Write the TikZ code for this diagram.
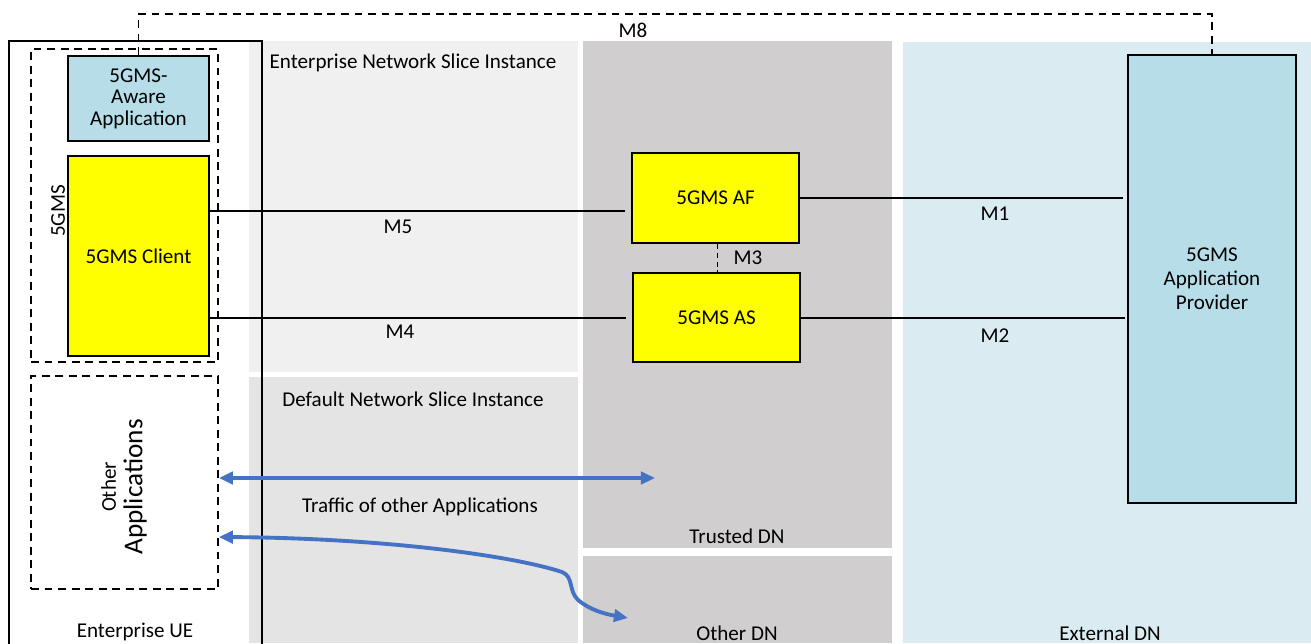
\documentclass[tikz,border=0pt]{standalone}
\usepackage{fontspec}
\setmainfont{Carlito}
\usetikzlibrary{arrows.meta}
\definecolor{ensi}{HTML}{F0F0F0}
\definecolor{dnsi}{HTML}{E4E4E4}
\definecolor{dngray}{HTML}{D0CECF}
\definecolor{extdn}{HTML}{DAECF2}
\definecolor{lblue}{HTML}{B7DEE8}
\definecolor{ayellow}{HTML}{FFFF00}
\definecolor{arrowblue}{HTML}{4472C4}
\begin{document}
\begin{tikzpicture}[x=0.02cm,y=-0.02cm,
  font=\fontsize{12}{14}\selectfont,
  box/.style={draw=black, line width=1.1pt, inner sep=2pt, align=center},
  dashbox/.style={draw=black, line width=1pt, dash pattern=on 4.5pt off 3.2pt},
  iface/.style={line width=0.9pt},
  flow/.style={draw=arrowblue, line width=2.2pt},
  lbl/.style={inner sep=0pt, align=center}]
\useasboundingbox (0,0) rectangle (1311,643);
% regions
\fill[ensi] (249,41) rectangle (578,372);
\fill[dnsi] (249,377) rectangle (578,643);
\fill[dngray] (583,41) rectangle (892,548);
\fill[dngray] (583,556) rectangle (892,643);
\fill[extdn] (903,42) rectangle (1311,643);
% Enterprise UE box
\draw[line width=1.1pt] (9,645) -- (9,41) -- (262,41) -- (262,645);
% dashed groups
\node[dashbox, minimum width=3.74cm, minimum height=6.26cm] (gms) at (124.5,205.5) {};
\node[dashbox, minimum width=3.74cm, minimum height=4.26cm] (other) at (124.5,482.5) {};
% boxes
\node[box, fill=lblue, minimum width=2.82cm, minimum height=1.7cm, font=\fontsize{12}{12.2}\selectfont] (aware) at (138.5,98.5) {5GMS-\\Aware\\Application};
\node[box, fill=ayellow, minimum width=2.82cm, minimum height=4cm] (client) at (138.5,256) {5GMS Client};
\node[box, fill=ayellow, minimum width=3.34cm, minimum height=1.8cm] (af) at (715.5,198) {5GMS AF};
\node[box, fill=ayellow, minimum width=3.34cm, minimum height=1.78cm] (as) at (716.5,317.5) {5GMS AS};
\node[box, fill=lblue, minimum width=3.36cm, minimum height=8.96cm, font=\fontsize{12}{13.6}\selectfont] (prov) at (1212,279) {5GMS\\Application\\Provider};
% free ends
\coordinate (m5end) at (625,211);
\coordinate (m4end) at (626,318);
\coordinate (m1end) at (1123,198);
\coordinate (m2end) at (1125,318);
\coordinate (m8l) at (139,14);
\coordinate (m8r) at (1212,14);
\coordinate (f1end) at (655,478);
\coordinate (f2end) at (628,618);
% interfaces
\draw[iface] (client.east |- m5end) -- (m5end);
\draw[iface] (client.east |- m4end) -- (m4end);
\draw[iface] (af.east |- m1end) -- (m1end);
\draw[iface] (as.east |- m2end) -- (m2end);
\draw[line width=0.5pt, densely dashed] (af.south -| 717,0) -- (as.north -| 717,0);
\draw[dashbox] (aware.north) -- (aware.north |- m8l) -- (m8r) -- (prov.north);
% traffic flows
\draw[flow, {Triangle[length=8pt,width=7pt]}-{Triangle[length=8pt,width=7pt]}] (other.east |- f1end) -- (f1end);
\draw[flow, {Triangle[length=8pt,width=7pt]}-{Triangle[length=8pt,width=7pt]}] (other.east |- 0,537) .. controls (380,538) and (510,555) .. (562,572) .. controls (574,577) and (568,590) .. (578,600) .. controls (590,610) and (605,614) .. (f2end);
% labels
\node[lbl] (l5gms) at (58,211) [rotate=90] {5GMS};
\node[lbl] (lother) at (124,487) [rotate=90] {Other\\[1pt]{\fontsize{15.5}{17}\selectfont Applications}};
\node[lbl] (lue) at (135,632) {Enterprise UE};
\node[lbl] (lensi) at (413,63) {Enterprise Network Slice Instance};
\node[lbl] (ldnsi) at (413,399) {Default Network Slice Instance};
\node[lbl] (ltraffic) at (420,507) {Traffic of other Applications};
\node[lbl] (ltrusted) at (737,536) {Trusted DN};
\node[lbl] (lotherdn) at (737,633) {Other DN};
\node[lbl] (lext) at (1110,633) {External DN};
\node[lbl] (lm5) at (398,227) {M5};
\node[lbl] (lm4) at (400,332) {M4};
\node[lbl] (lm1) at (995,214) {M1};
\node[lbl] (lm2) at (995,336) {M2};
\node[lbl] (lm3) at (748,258) {M3};
\node[lbl] (lm8) at (633,30) {M8};
\end{tikzpicture}
\end{document}
